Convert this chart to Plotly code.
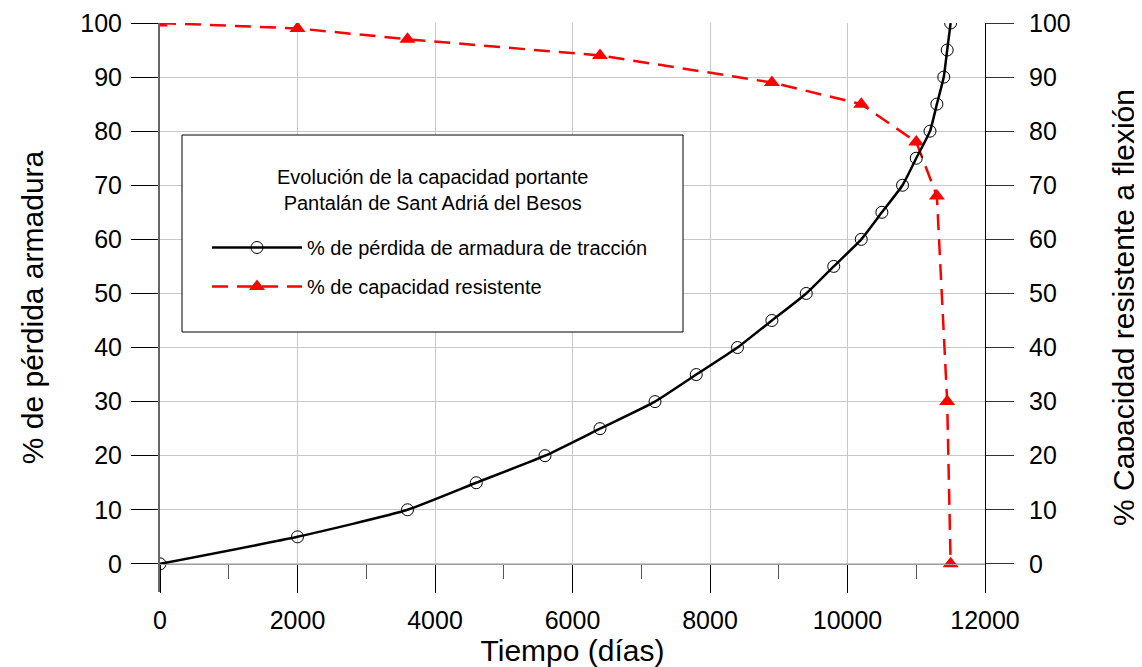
import plotly.graph_objects as go

# --- data ---
dias_perdida = [0, 2000, 3600, 4600, 5600, 6400, 7200, 7800, 8400, 8900, 9400,
                9800, 10200, 10500, 10800, 11000, 11200, 11300, 11400, 11450, 11500]
perdida_armadura = [0, 5, 10, 15, 20, 25, 30, 35, 40, 45, 50,
                    55, 60, 65, 70, 75, 80, 85, 90, 95, 100]

dias_capacidad = [0, 2000, 3600, 6400, 8900, 10200, 11000, 11300, 11450, 11500]
capacidad_resistente = [100, 99, 97, 94, 89, 85, 78, 68, 30, 0]

x_ticks = [0, 2000, 4000, 6000, 8000, 10000, 12000]
x_labels = ["0", "2000", "4000", "6000", "8000", "10000", "12000"]
y_ticks = [0, 10, 20, 30, 40, 50, 60, 70, 80, 90, 100]
y_labels = [str(v) for v in y_ticks]

FONT = "Liberation Sans, Arial, sans-serif"

# page offset (default body margin) and plot-area geometry in screen pixels
OFF = 8
W, H = 1142 - OFF, 667 - OFF
ML, MT = 160 - OFF, 23 - OFF
MR = W - (985 - OFF)
MB = H - (592 - OFF)
PW, PH = W - ML - MR, H - MT - MB
Y_MIN = -5.2
y0_frac = (0 - Y_MIN) / (100 - Y_MIN)


def px_x(p):
    return (p - OFF - ML) / PW


def px_y(p):
    return (H - MB - (p - OFF)) / PH


fig = go.Figure()

fig.add_trace(go.Scatter(
    x=dias_capacidad, y=capacidad_resistente,
    mode="lines+markers",
    name="% de capacidad resistente",
    line=dict(color="#ff0000", width=2.5, dash="16px,9px"),
    marker=dict(symbol="triangle-up", size=14, color="#ff0000"),
    legendrank=2, legendgroup="b",
))

fig.add_trace(go.Scatter(
    x=dias_perdida, y=perdida_armadura,
    mode="lines+markers",
    name="% de pérdida de armadura de tracción",
    line=dict(color="black", width=2.5, shape="spline", smoothing=0.5),
    marker=dict(symbol="circle-open", size=12, color="black", line=dict(width=1)),
    legendrank=1, legendgroup="a",
))

# invisible trace on the secondary axis so it is drawn
fig.add_trace(go.Scatter(
    x=[None], y=[None], yaxis="y2", showlegend=False, hoverinfo="skip",
))

fig.update_layout(
    width=W, height=H,
    margin=dict(l=ML, r=MR, t=MT, b=MB, autoexpand=False),
    paper_bgcolor="white", plot_bgcolor="white",
    font=dict(family=FONT, color="black", size=25),
    showlegend=True,
    legend=dict(
        x=px_x(207), y=px_y(228), xanchor="left", yanchor="top",
        bgcolor="rgba(0,0,0,0)", borderwidth=0,
        font=dict(family=FONT, size=20, color="black"),
        itemwidth=90, tracegroupgap=10, traceorder="grouped",
    ),
    xaxis=dict(
        range=[0, 12000], tickvals=x_ticks, ticktext=x_labels,
        anchor="free", position=y0_frac, automargin=False,
        showline=True, linecolor="#a0a0a0", linewidth=1,
        showgrid=True, gridcolor="#c8c8c8", gridwidth=1,
        zeroline=False,
        ticks="outside", ticklen=28, tickcolor="black", tickwidth=1,
        minor=dict(dtick=1000, ticks="outside", ticklen=14, tickcolor="#555555", showgrid=False),
        tickfont=dict(size=25, family=FONT),
        ticklabelstandoff=6,
        title=dict(text="Tiempo (días)", font=dict(size=30, family=FONT), standoff=10),
    ),
    yaxis=dict(
        range=[Y_MIN, 100], tickvals=y_ticks, ticktext=y_labels, automargin=False,
        showline=True, linecolor="#666666", linewidth=2,
        showgrid=True, gridcolor="#c8c8c8", gridwidth=1,
        zeroline=False,
        ticks="outside", ticklen=27, tickcolor="black", tickwidth=1,
        tickfont=dict(size=25, family=FONT),
        ticklabelstandoff=4,
        title=dict(text="% de pérdida armadura", font=dict(size=30, family=FONT), standoff=28),
    ),
    yaxis2=dict(
        range=[Y_MIN, 100], tickvals=y_ticks, ticktext=y_labels, automargin=False,
        overlaying="y", side="right", anchor="x",
        showline=True, linecolor="black", linewidth=1,
        showgrid=False, zeroline=False,
        ticks="outside", ticklen=28, tickcolor="#333333", tickwidth=1,
        tickfont=dict(size=25, family=FONT),
        ticklabelstandoff=10,
        title=dict(text="% Capacidad resistente a flexión", font=dict(size=30, family=FONT), standoff=43),
    ),
    shapes=[dict(
        type="rect", xref="paper", yref="paper", layer="above",
        x0=px_x(182), x1=px_x(683), y0=px_y(332), y1=px_y(135),
        line=dict(color="black", width=1), fillcolor="white",
    )],
    annotations=[dict(
        xref="paper", yref="paper", x=px_x(432), y=px_y(190),
        xanchor="center", yanchor="middle", showarrow=False,
        text="Evolución de la capacidad portante<br>Pantalán de Sant Adriá del Besos",
        font=dict(size=20, family=FONT, color="black"), align="center",
    )],
)

fig.write_html("out.html")
